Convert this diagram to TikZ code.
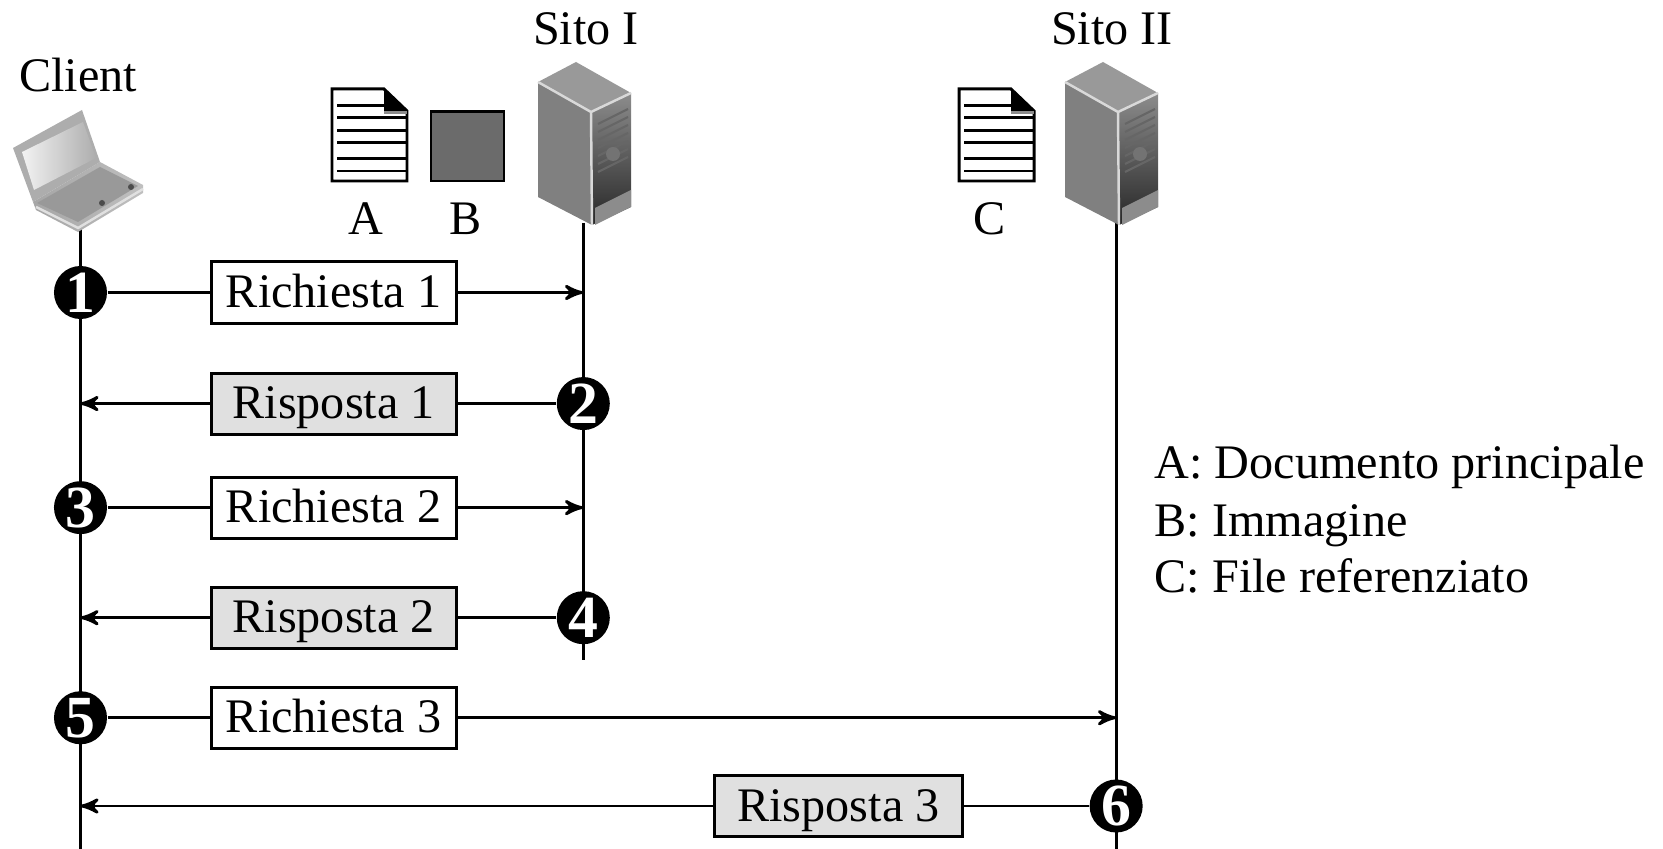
\documentclass[tikz,border=0pt]{standalone}
\usepackage{fontspec}
\setmainfont{Liberation Serif}
\usetikzlibrary{arrows}
\tikzset{
  richiesta/.style={draw, line width=0.85pt, minimum width=2.45cm, minimum height=0.61cm, inner sep=0pt, text height=0.33cm, text depth=0.03cm},
  risposta/.style={richiesta, fill=black!12},
  passo/.style={circle, fill=black, text=white, font=\fontsize{17}{17}\selectfont\bfseries, minimum size=0.53cm, inner sep=0pt},
  etichetta/.style={anchor=base, inner sep=0pt},
  voce/.style={anchor=base west, inner sep=0pt},
  foglio/.pic={
    \draw [line width=0.85pt, fill=white] (0,0) -- (52,0) -- (75,22) -- (75,92) -- (0,92) -- cycle;
    \draw [line width=0.85pt] (5,17) -- (52,17);
    \foreach \riga in {29,42,54,70,82}
      \draw [line width=0.85pt] (5,\riga) -- (75,\riga);
    \fill [black!45] (52,22) rectangle (75,25);
    \fill (52,0) -- (75,22) -- (52,22) -- cycle;
  },
  server/.pic={
    \fill [black!40] (0,0) -- (-38,20) -- (15,50) -- (55,31) -- cycle;
    \fill [black!50] (-38,20) -- (15,50) -- (16,163) -- (-38,135) -- cycle;
    \shade [top color=black!45, bottom color=black!85] (15,50) -- (55,31) -- (55,145) -- (16,163) -- cycle;
    \fill [black!45] (19,146) -- (55,128) -- (55,145) -- (19,163) -- cycle;
    \foreach \riga in {0,8,...,48}
      \draw [black!60, line width=0.6pt] (22,62+\riga) -- (52,47+\riga);
    \fill [black!55] (37,92) circle (7);
    \draw [black!15, line width=0.7pt] (-38,20) -- (15,50) -- (55,31) (15,50) -- (16,163);
  },
}
\begin{document}
\begin{tikzpicture}[x=0.01cm, y=-0.01cm, font=\fontsize{13.7}{16}\selectfont, >=stealth']
  \useasboundingbox (0,0) rectangle (1663,849);
  \coordinate (c0) at (80.5,228);
  \coordinate (c1) at (80.5,849);
  \coordinate (s0) at (583,223);
  \coordinate (s1) at (583,660);
  \coordinate (t0) at (1116,223);
  \coordinate (t1) at (1116,849);
  \draw [line width=0.85pt] (c0) -- (c1);
  \draw [line width=0.85pt] (s0) -- (s1);
  \draw [line width=0.85pt] (t0) -- (t1);

  \node (client) [etichetta] at (78,92) {Client};
  \node (sito1) [etichetta] at (586,45) {Sito I};
  \node (sito2) [etichetta] at (1112,45) {Sito II};
  \node (a) [etichetta] at (366,235) {A};
  \node (b) [etichetta] at (466,235) {B};
  \node (c) [etichetta] at (990,235) {C};

  \shade [left color=black!35, right color=black!25] (33,202) -- (100,162) -- (143,185) -- (143,193) -- (78,232) -- (36,210) -- cycle;
  \fill [black!32] (82,110) -- (13,148) -- (33,202) -- (100,162) -- cycle;
  \shade [left color=black!5, right color=black!32] (83,122) -- (22,152) -- (34,190) -- (96,158) -- cycle;
  \fill [black!40] (37,203) -- (100,167) -- (138,186) -- (78,222) -- cycle;
  \draw [black!12, line width=0.7pt] (36,207) -- (78,228) -- (143,189);
  \fill [black!70] (131,187) circle (3) (102,203) circle (3);

  \pic at (332,89) {foglio};
  \pic at (959,89) {foglio};
  \draw [line width=0.85pt, fill=black!58] (431,112) rectangle (504,181);
  \pic at (576,62) {server};
  \pic at (1103,62) {server};

  \node (1) [passo] at (80.5,292.5) {1};
  \node (3) [passo, below of=1, node distance=2.15cm] {3};
  \node (5) [passo, below of=3, node distance=2.1cm] {5};
  \node (rq1) [richiesta, right of=1, node distance=2.53cm] {Richiesta 1};
  \node (rq2) [richiesta, right of=3, node distance=2.53cm] {Richiesta 2};
  \node (rq3) [richiesta, right of=5, node distance=2.53cm] {Richiesta 3};
  \node (rp1) [risposta, below of=rq1, node distance=1.11cm] {Risposta 1};
  \node (rp2) [risposta, below of=rq2, node distance=1.1cm] {Risposta 2};
  \node (rp3) [risposta, minimum width=2.48cm] at (838.5,806) {Risposta 3};
  \node (2) [passo, right of=rp1, node distance=2.495cm] {2};
  \node (4) [passo, right of=rp2, node distance=2.495cm] {4};
  \node (6) [passo, right of=rp3, node distance=2.775cm] {6};

  \draw [line width=0.85pt] (1) -- (rq1);
  \draw [line width=0.85pt] (3) -- (rq2);
  \draw [line width=0.85pt] (5) -- (rq3);
  \draw [line width=0.85pt] (2) -- (rp1);
  \draw [line width=0.85pt] (4) -- (rp2);
  \draw [line width=0.85pt] (6) -- (rp3);
  \draw [->, line width=0.85pt] (rq1) -- (rq1 -| s0);
  \draw [->, line width=0.85pt] (rq2) -- (rq2 -| s0);
  \draw [->, line width=0.85pt] (rq3) -- (rq3 -| t0);
  \draw [->, line width=0.85pt] (rp1) -- (rp1 -| c0);
  \draw [->, line width=0.85pt] (rp2) -- (rp2 -| c0);
  \draw [->, line width=0.85pt] (rp3) -- (rp3 -| c0);

  \node (va) [voce] at (1154,479) {A: Documento principale};
  \node (vb) [voce] at (1154,537) {B: Immagine};
  \node (vc) [voce] at (1154,593) {C: File referenziato};
\end{tikzpicture}
\end{document}
